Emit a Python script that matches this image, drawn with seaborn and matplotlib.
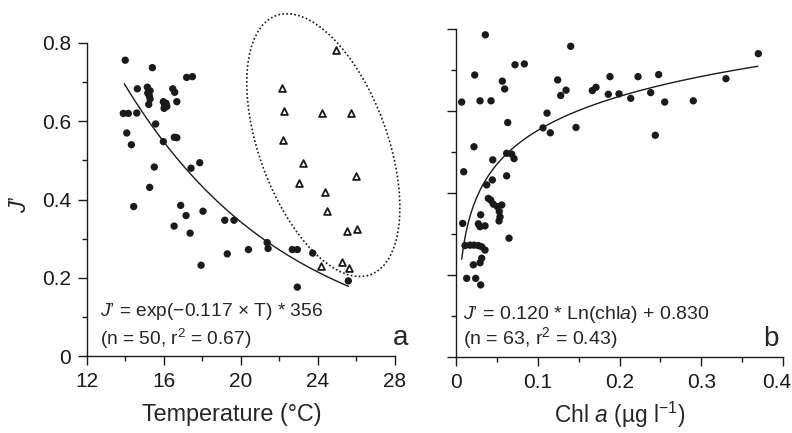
import numpy as np
import pandas as pd
import matplotlib
matplotlib.use("Agg")
import matplotlib.pyplot as plt
import matplotlib.transforms as mtransforms
from matplotlib.patches import Ellipse
from matplotlib.ticker import MultipleLocator
import seaborn as sns

# --------------------------
# Data
# --------------------------
# panel a, filled circles
temp_circ = [14.0, 15.41, 17.19, 17.49, 14.63, 15.15, 15.29, 15.17, 16.47, 16.57,
             15.29, 15.22, 15.98, 16.12, 16.02, 16.16, 16.68, 13.90, 14.16, 14.60,
             15.58, 14.08, 14.32, 15.98, 16.55, 16.68, 15.51, 17.42, 17.87, 15.27,
             14.44, 16.88, 17.16, 16.54, 17.37, 18.04, 17.94, 19.17, 19.65, 19.30,
             20.40, 21.37, 21.42, 22.68, 22.94, 22.94, 23.74, 25.59, 16.05, 15.25]
j_circ = [0.756, 0.737, 0.712, 0.714, 0.683, 0.687, 0.678, 0.672, 0.683, 0.674,
          0.657, 0.643, 0.650, 0.646, 0.633, 0.638, 0.650, 0.620, 0.620, 0.621,
          0.593, 0.570, 0.540, 0.548, 0.559, 0.558, 0.483, 0.480, 0.494, 0.431,
          0.382, 0.385, 0.359, 0.332, 0.314, 0.370, 0.232, 0.347, 0.347, 0.261,
          0.272, 0.290, 0.275, 0.272, 0.272, 0.176, 0.263, 0.192, 0.642, 0.665]

# panel a, open triangles (inside the dotted ellipse)
temp_tri = [24.95, 22.16, 22.27, 24.21, 25.71, 22.20, 23.22, 26.01, 23.03, 24.36,
            24.50, 25.54, 26.04, 24.17, 25.26, 25.63]
j_tri = [0.783, 0.685, 0.625, 0.622, 0.622, 0.551, 0.494, 0.459, 0.442, 0.420,
         0.371, 0.320, 0.325, 0.231, 0.240, 0.225]

# panel b
chl = [0.0362, 0.1404, 0.0724, 0.0838, 0.0232, 0.0569, 0.0598, 0.1245, 0.1347, 0.1282,
       0.1668, 0.1713, 0.1884, 0.1863, 0.1994, 0.0073, 0.0297, 0.0431, 0.1115, 0.0635,
       0.1066, 0.1155, 0.1469, 0.0223, 0.0622, 0.0684, 0.0712, 0.0098, 0.0452, 0.0378,
       0.0447, 0.0622, 0.3695, 0.2226, 0.2478, 0.2137, 0.2381, 0.2552, 0.2901, 0.3300,
       0.2437, 0.0398, 0.0427, 0.0459, 0.0508, 0.0562, 0.0532, 0.0541, 0.0529, 0.0085,
       0.0305, 0.0276, 0.0297, 0.0358, 0.0651, 0.0114, 0.0175, 0.0223, 0.0276, 0.0317,
       0.0358, 0.0317, 0.0297, 0.0215, 0.0134, 0.0244, 0.0305]
j_chl = [0.787, 0.759, 0.714, 0.716, 0.689, 0.674, 0.655, 0.677, 0.652, 0.639,
         0.651, 0.659, 0.685, 0.642, 0.643, 0.623, 0.626, 0.626, 0.596, 0.573,
         0.560, 0.548, 0.561, 0.514, 0.498, 0.496, 0.485, 0.453, 0.482, 0.421,
         0.433, 0.443, 0.741, 0.685, 0.690, 0.632, 0.646, 0.623, 0.626, 0.680,
         0.542, 0.388, 0.384, 0.374, 0.368, 0.372, 0.356, 0.343, 0.333, 0.327,
         0.348, 0.326, 0.319, 0.321, 0.291, 0.273, 0.274, 0.274, 0.273, 0.270,
         0.262, 0.242, 0.231, 0.226, 0.193, 0.193, 0.177]

# fitted curves, coefficients as printed on the chart
EXP_A, EXP_K = 3.56, -0.117
LN_A, LN_B = 0.120, 0.830

fit_t = np.linspace(13.95, 25.6, 100)
fit_a = pd.DataFrame({"T": fit_t, "J": EXP_A * np.exp(EXP_K * fit_t)})
fit_c = np.linspace(0.0073, 0.369, 200)
fit_b = pd.DataFrame({"chl": fit_c, "J": LN_A * np.log(fit_c) + LN_B})

df_circ = pd.DataFrame({"T": temp_circ, "J": j_circ})
df_tri = pd.DataFrame({"T": temp_tri, "J": j_tri})
df_chl = pd.DataFrame({"chl": chl, "J": j_chl})

# --------------------------
# Style
# --------------------------
sns.set_style("ticks")
plt.rcParams["font.family"] = ["Liberation Sans", "DejaVu Sans"]
plt.rcParams["mathtext.fontset"] = "custom"
plt.rcParams["mathtext.rm"] = "Liberation Sans"
plt.rcParams["mathtext.it"] = "Liberation Sans:italic"
plt.rcParams["axes.linewidth"] = 1.0

INK = "#1a1a1a"

fig = plt.figure(figsize=(7.92, 4.33), dpi=100)
ax1 = fig.add_axes([0.1095, 0.1778, 0.3889, 0.7229])
ax2 = fig.add_axes([0.5754, 0.1744, 0.4136, 0.7575])

# panel a
sns.scatterplot(data=df_circ, x="T", y="J", ax=ax1, color=INK, s=28,
                edgecolor="none", zorder=3, legend=False)
sns.scatterplot(data=df_tri, x="T", y="J", ax=ax1, marker="^", s=24,
                facecolor="white", edgecolor=INK, linewidth=1.3,
                zorder=3, legend=False)
sns.lineplot(data=fit_a, x="T", y="J", ax=ax1, color=INK, lw=1.0)

# dotted ellipse around the triangles (size in inches, centred in data coords)
ell_tr = fig.dpi_scale_trans + mtransforms.ScaledTranslation(24.29, 0.539, ax1.transData)
ax1.add_patch(Ellipse((0, 0), 1.284, 2.757, angle=20, transform=ell_tr,
                      fill=False, ls=(0, (1, 1.4)), lw=1.2, ec=INK, clip_on=False))

ax1.set_xlim(12, 28)
ax1.set_ylim(0, 0.8)
ax1.xaxis.set_major_locator(MultipleLocator(4))
ax1.xaxis.set_minor_locator(MultipleLocator(2))
ax1.yaxis.set_major_locator(MultipleLocator(0.2))
ax1.yaxis.set_minor_locator(MultipleLocator(0.1))
ax1.set_yticks([0, 0.2, 0.4, 0.6, 0.8], ["0", "0.2", "0.4", "0.6", "0.8"])
ax1.set_xlabel("Temperature (°C)", fontsize=16.8, labelpad=9)
ax1.xaxis.label.set_x(0.472)
ax1.set_ylabel("")
ax1.text(12.69, 0.113, "$\\mathit{J}$’ = exp(−0.117 × T) * 356", fontsize=13.8, va="center")
ax1.text(12.69, 0.043, "(n = 50, r$^{2}$ = 0.67)", fontsize=13.8, va="center")
ax1.text(28.3, 0.045, "a", fontsize=20, ha="center", va="center")

# panel b
sns.scatterplot(data=df_chl, x="chl", y="J", ax=ax2, color=INK, s=28,
                edgecolor="none", zorder=3, legend=False)
sns.lineplot(data=fit_b, x="chl", y="J", ax=ax2, color=INK, lw=1.0)
ax2.set_xlim(0, 0.4)
ax2.set_ylim(0, 0.8)
ax2.xaxis.set_major_locator(MultipleLocator(0.1))
ax2.xaxis.set_minor_locator(MultipleLocator(0.05))
ax2.yaxis.set_major_locator(MultipleLocator(0.2))
ax2.yaxis.set_minor_locator(MultipleLocator(0.1))
ax2.set_xticks([0, 0.1, 0.2, 0.3, 0.4], ["0", "0.1", "0.2", "0.3", "0.4"])
ax2.tick_params(axis="y", which="both", labelleft=False)
ax2.set_xlabel("Chl $\\mathit{a}$ (µg l$^{-1}$)", fontsize=16.4, labelpad=5)
ax2.set_ylabel("")
ax2.text(0.0093, 0.104, "$\\mathit{J}$’ = 0.120 * Ln(chl$\\mathit{a}$) + 0.830", fontsize=14, va="center")
ax2.text(0.0093, 0.048, "(n = 63, r$^{2}$ = 0.43)", fontsize=14, va="center")
ax2.text(0.385, 0.045, "b", fontsize=20, ha="center", va="center")

for ax in (ax1, ax2):
    sns.despine(ax=ax)
    ax.tick_params(which="major", direction="out", length=6.5, width=1.0, pad=5,
                   labelsize=15, color=INK, labelcolor=INK)
    ax.tick_params(which="minor", direction="out", length=3.5, width=1.0, color=INK)
    ax.spines["left"].set_color(INK)
    ax.spines["bottom"].set_color(INK)

# nudge the last tick label of panel b so it stays inside the figure
last = ax2.get_xticklabels()[-1]
last.set_transform(last.get_transform() + mtransforms.ScaledTranslation(-7 / 100, 0, fig.dpi_scale_trans))

fig.text(20 / 792, 1 - 204 / 433, "$\\mathit{J}$’", rotation=90, fontsize=17,
         ha="center", va="center")

fig.savefig("out.png", dpi=100)
